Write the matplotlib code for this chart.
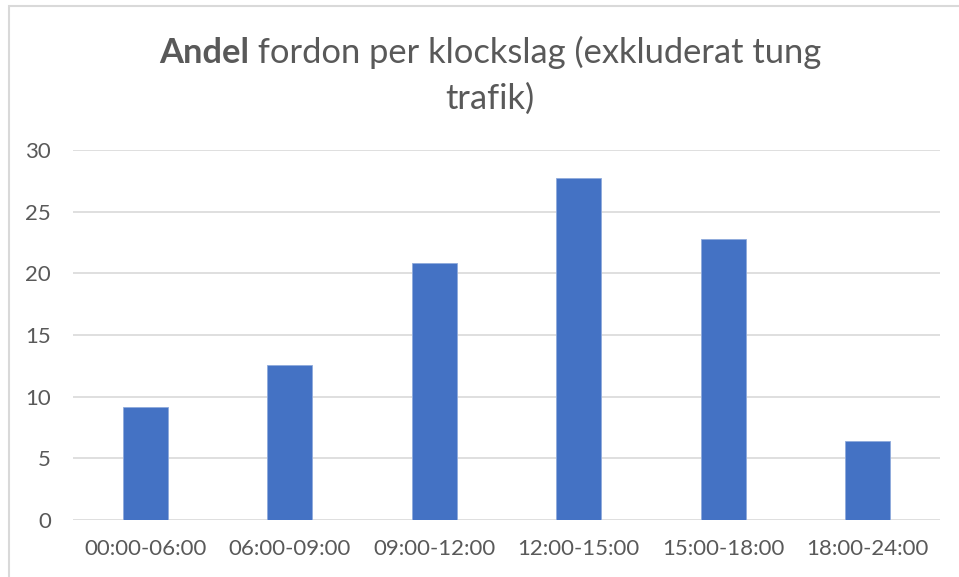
import matplotlib
matplotlib.use("Agg")
import matplotlib.pyplot as plt
from matplotlib.patches import Rectangle

categories = ["00:00-06:00", "06:00-09:00", "09:00-12:00", "12:00-15:00", "15:00-18:00", "18:00-24:00"]
values = [9.16, 12.57, 20.87, 27.76, 22.78, 6.38]
yticks = [0, 5, 10, 15, 20, 25, 30]
title_bold = "Andel"
title_rest = " fordon per klockslag (exkluderat tung"
title_line2 = "trafik)"

FONT = ["Lato", "DejaVu Sans"]
TXT = "#595959"
W, H = 959, 577

fig = plt.figure(figsize=(W / 100, H / 100), dpi=100)
fig.patch.set_facecolor("white")

# chart border (partially outside the image)
fig.add_artist(Rectangle((8.5 / W, -0.1), 1.2, 1 + 0.1 - 5.5 / H, transform=fig.transFigure,
                         fill=False, edgecolor="#d9d9d9", linewidth=1.5))

ax = fig.add_axes([73 / W, (H - 520) / H, 867 / W, 370 / H])
x = list(range(len(categories)))
ax.bar(x, values, width=0.313, color="#4472C4", edgecolor="#8faadc", linewidth=0.6, zorder=3)
ax.set_xlim(-0.5, len(categories) - 0.5)
ax.set_ylim(0, 30)
ax.set_yticks(yticks)
ax.set_yticklabels([str(v) for v in yticks])
ax.set_xticks(x)
ax.set_xticklabels(categories)
ax.grid(axis="y", color="#d9d9d9", linewidth=1.2, zorder=0)
ax.set_axisbelow(True)
for s in ax.spines.values():
    s.set_visible(False)
ax.tick_params(axis="both", length=0, colors=TXT, labelsize=16)
ax.tick_params(axis="y", pad=16)
ax.tick_params(axis="x", pad=14)
for lab in ax.get_xticklabels() + ax.get_yticklabels():
    lab.set_family(FONT)
    lab.set_color(TXT)

# title with mixed weight
fs = 24.8
cx = 490 / W
y1 = 1 - 63 / H
y2 = 1 - 109 / H
renderer = fig.canvas.get_renderer()
tb = fig.text(0, y1, title_bold, fontsize=fs, fontweight="bold", color=TXT, family=FONT, va="baseline")
tr = fig.text(0, y1, title_rest, fontsize=fs, color=TXT, family=FONT, va="baseline")
wb = tb.get_window_extent(renderer).width / W
wr = tr.get_window_extent(renderer).width / W
x0 = cx - (wb + wr) / 2
tb.set_x(x0)
tr.set_x(x0 + wb)
fig.text(cx, y2, title_line2, fontsize=fs, color=TXT, family=FONT, va="baseline", ha="center")

fig.savefig("out.png", dpi=100, facecolor="white")
